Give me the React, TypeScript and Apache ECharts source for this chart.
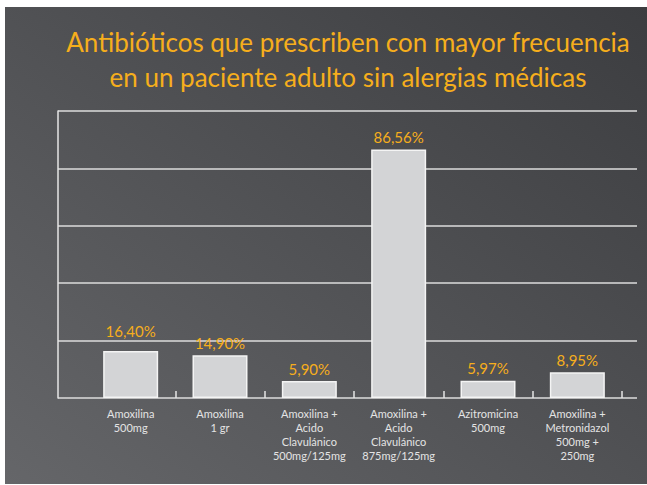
import React, { useEffect, useRef } from "react";
import * as echarts from "echarts";

const TITLE_LINES = [
  "Antibióticos que prescriben con mayor frecuencia",
  "en un paciente adulto sin alergias médicas",
];
const CATEGORIES = [
  "Amoxilina\n500mg",
  "Amoxilina\n1 gr",
  "Amoxilina +\nAcido\nClavulánico\n500mg/125mg",
  "Amoxilina +\nAcido\nClavulánico\n875mg/125mg",
  "Azitromicina\n500mg",
  "Amoxilina +\nMetronidazol\n500mg +\n250mg",
];
const VALUES = [16.4, 14.9, 5.9, 86.56, 5.97, 8.95];
const Y_MIN = 0;
const Y_MAX = 100;
const Y_INTERVAL = 20;

const FONT = "Lato, 'Open Sans', sans-serif";

export default function App() {
  const ref = useRef<HTMLDivElement>(null);
  useEffect(() => {
    if (!ref.current) return;
    const chart = echarts.init(ref.current, null, { renderer: "svg" });
    chart.setOption({
      animation: false,
      backgroundColor: "#ffffff",
      graphic: [
        {
          type: "rect",
          z: -10,
          silent: true,
          shape: { x: 5, y: 7, width: 642, height: 477 },
          style: {
            fill: new echarts.graphic.LinearGradient(0, 1, 1, 0, [
              { offset: 0, color: "#656669" },
              { offset: 1, color: "#3c3d40" },
            ]),
          },
        },
        {
          type: "text",
          x: 348,
          y: 24,
          style: {
            text: TITLE_LINES.join("\n"),
            fill: "#f6ae1c",
            font: `26px ${FONT}`,
            align: "center",
            verticalAlign: "top",
            lineHeight: 35,
          },
        },
      ],
      grid: [
        { left: 58, top: 111, width: 579, height: 287 },
        { left: 86, top: 111, width: 536, height: 287 },
      ],
      xAxis: [
        { gridIndex: 0, type: "value", show: false, min: 0, max: 1 },
        {
          gridIndex: 1,
          type: "category",
          data: CATEGORIES,
          axisLine: { show: false },
          axisTick: {
            show: true,
            inside: true,
            length: 7,
            interval: (i: number) => i > 0,
            lineStyle: { color: "#e6e6e6", width: 1.5 },
          },
          axisLabel: {
            interval: 0,
            color: "#e4e4e4",
            fontSize: 11,
            lineHeight: 14,
            margin: 8,
            fontFamily: FONT,
          },
        },
      ],
      yAxis: [
        {
          gridIndex: 0,
          type: "value",
          min: Y_MIN,
          max: Y_MAX,
          interval: Y_INTERVAL,
          axisLabel: { show: false },
          axisTick: { show: false },
          axisLine: { show: true, lineStyle: { color: "#e6e6e6", width: 1.5 } },
          splitLine: { show: true, lineStyle: { color: "#dcdcdc", width: 1.5 } },
        },
        { gridIndex: 1, type: "value", min: Y_MIN, max: Y_MAX, show: false },
      ],
      series: [
        {
          type: "bar",
          xAxisIndex: 1,
          yAxisIndex: 1,
          barWidth: 55,
          data: VALUES.map((v, i) => ({
            value: v,
            label: { distance: i === 0 ? 12 : 5 },
          })),
          itemStyle: {
            color: "#d3d4d6",
            borderColor: "#f4f4f4",
            borderWidth: 1.5,
          },
          label: {
            show: true,
            position: "top",
            color: "#f6ae1c",
            fontSize: 15,
            fontFamily: FONT,
            formatter: (p: any) => `${Number(p.value).toFixed(2).replace(".", ",")}%`,
          },
        },
      ],
    });
    return () => chart.dispose();
  }, []);
  return (
    <div
      ref={ref}
      style={{ position: "fixed", left: 0, top: 0, width: 647, height: 485 }}
    />
  );
}
